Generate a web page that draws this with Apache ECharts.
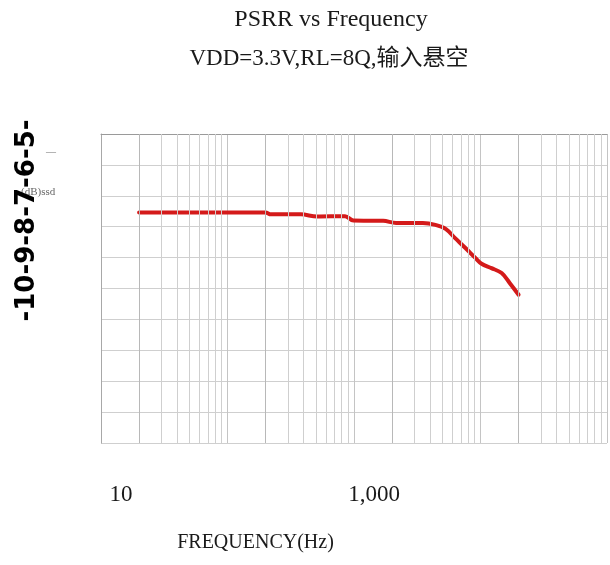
<!DOCTYPE html>
<html>
<head>
<meta charset="utf-8">
<title>PSRR vs Frequency</title>
<script src="https://cdn.jsdelivr.net/npm/echarts@6/dist/echarts.min.js"></script>
<style>
  html, body { margin: 0; padding: 0; background: #ffffff; }
  #chart { width: 610px; height: 565px; }
</style>
</head>
<body>
<div id="chart"></div>
<script>
// Measured PSRR curve (frequency in Hz, PSRR in dB)
const freqHz = [20, 200, 220, 380, 510, 850, 990, 1700, 2150, 3500, 4400, 5300, 6300, 7600, 9100, 10200, 12200, 14700, 17000, 20000];
const psrrDb = [-25.4, -25.4, -26.0, -26.0, -26.7, -26.6, -28.0, -28.1, -28.8, -28.8, -29.4, -30.7, -33.7, -36.9, -40.1, -42.0, -43.4, -45.0, -48.2, -52.0];

// Axis texts
const titleText = 'PSRR vs Frequency';
const subtitleText = 'VDD=3.3V,RL=8Q,输入悬空';
const xAxisName = 'FREQUENCY(Hz)';
const yAxisName = '-10-9-8-7-6-5-';
const xTickValues = [10, 1000];
const xTickText = ['10', '1,000'];

// Log-paper grid: lines at 2..9 within each decade
const gridDecades = [10, 100, 1000, 10000];
const gridSteps = [2, 3, 4, 5, 6, 7, 8, 9];

const serif = '"Liberation Serif", "Noto Sans CJK SC", serif';

const minorLines = [];
gridDecades.forEach(function (d) {
  gridSteps.forEach(function (s) {
    minorLines.push({
      xAxis: d * s,
      lineStyle: { color: s === 2 ? '#b8b8b8' : '#cfcfcf', width: 1, type: 'solid' }
    });
  });
});

const chart = echarts.init(document.getElementById('chart'), null, { renderer: 'canvas' });

chart.setOption({
  animation: false,
  backgroundColor: '#ffffff',
  title: [
    {
      text: titleText,
      left: 331,
      top: 8,
      padding: 0,
      textAlign: 'center',
      textStyle: { fontFamily: serif, fontSize: 24, fontWeight: 'normal', color: '#1a1a1a' }
    },
    {
      text: subtitleText,
      left: 329,
      top: 47,
      padding: 0,
      textAlign: 'center',
      textStyle: { fontFamily: serif, fontSize: 23, fontWeight: 'normal', color: '#1a1a1a' }
    }
  ],
  graphic: [
    {
      type: 'text',
      left: 46,
      top: 147,
      silent: true,
      style: { text: '—', fontFamily: serif, fontSize: 10, fill: '#777777' }
    },
    {
      type: 'text',
      left: 21,
      top: 187,
      silent: true,
      z: -1,
      style: { text: '(dB)ssd', fontFamily: serif, fontSize: 11, fill: '#666666' }
    }
  ],
  grid: { left: 101, top: 134, width: 512, height: 309 },
  xAxis: {
    type: 'log',
    logBase: 10,
    min: 10,
    max: 100000,
    name: xAxisName,
    nameLocation: 'middle',
    nameGap: 90,
    nameTextStyle: {
      fontFamily: serif, fontSize: 20, color: '#1a1a1a',
      padding: [0, 197, 0, 0]
    },
    axisLine: { show: true, lineStyle: { color: '#9a9a9a', width: 1 } },
    axisTick: { show: false },
    axisLabel: {
      margin: 40,
      fontFamily: serif,
      fontSize: 23,
      color: '#1a1a1a',
      padding: [0, 0, 0, 40],
      formatter: function (v) {
        const i = xTickValues.indexOf(Math.round(v));
        return i >= 0 ? xTickText[i] : '';
      }
    },
    splitLine: { show: true, lineStyle: { color: '#c4c4c4', width: 1 } }
  },
  yAxis: {
    type: 'value',
    min: -100,
    max: 0,
    interval: 10,
    name: yAxisName,
    nameLocation: 'middle',
    nameRotate: 90,
    nameGap: 61,
    nameTextStyle: {
      fontFamily: '"DejaVu Sans", sans-serif',
      fontWeight: 'bold',
      fontSize: 26,
      color: '#000000',
      padding: [0, 0, 0, 136]
    },
    axisLine: { show: true, lineStyle: { color: '#a8a8a8', width: 1 } },
    axisTick: { show: false },
    axisLabel: { show: false },
    splitLine: { show: true, lineStyle: { color: '#cfcfcf', width: 1 } }
  },
  series: [
    {
      // paper grid lines drawn beneath the curve
      type: 'line',
      data: [],
      z: 1,
      silent: true,
      markLine: {
        silent: true,
        symbol: ['none', 'none'],
        label: { show: false },
        animation: false,
        data: minorLines
      }
    },
    {
      name: 'PSRR',
      type: 'line',
      z: 3,
      data: freqHz.map(function (f, i) { return [f, psrrDb[i]]; }),
      showSymbol: false,
      smooth: 0.35,
      lineStyle: { color: '#d41a1a', width: 4, cap: 'round', join: 'round' }
    }
  ]
});
</script>
</body>
</html>
